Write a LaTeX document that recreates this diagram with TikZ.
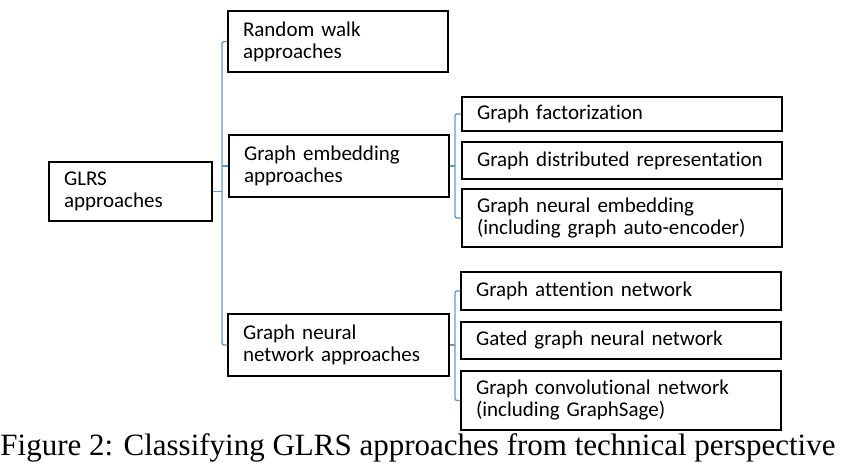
\documentclass[tikz,border=0pt]{standalone}
\usepackage{fontspec}
\setmainfont{Carlito}[Ligatures=NoCommon]
\newfontfamily\capfont{Liberation Serif}
\usepackage{xcolor}
\usepackage{tikz}
\usetikzlibrary{positioning}

\definecolor{linkblue}{HTML}{5B9BD5}

\tikzset{
  box/.style={draw, line width=1.2pt, align=left, inner xsep=15pt, inner ysep=0pt,
    font=\fontsize{21}{22}\selectfont},
  link/.style={draw=linkblue, line width=1.4pt, rounded corners=2pt}
}

\begin{document}
\begin{tikzpicture}[x=1pt, y=-1pt]
    \useasboundingbox (0,0) rectangle (846,472);
    % left column
    \node[box, text width=133pt, minimum height=59pt] (glrs) at (130.5,191.5) {GLRS\\approaches};
    % middle column
    \node[box, text width=190pt, minimum height=61pt] (rw)  at (338,41.5)  {Random walk\\approaches};
    \node[box, text width=190pt, minimum height=62pt] (ge)  at (339,166)   {Graph embedding\\approaches};
    \node[box, text width=191pt, minimum height=62pt] (gnn) at (338.5,345) {Graph neural\\network approaches};
    % right column
    \node[box, text width=290pt, minimum height=34pt] (gf)   at (622,114)   {Graph factorization};
    \node[box, text width=290pt, minimum height=37pt] (gd)   at (622,160.5) {Graph distributed representation};
    \node[box, text width=290pt, minimum height=58pt] (gne)  at (622,218)   {Graph neural embedding\\(including graph auto-encoder)};
    \node[box, text width=290pt, minimum height=38pt] (gat)  at (621,291)   {Graph attention network};
    \node[box, text width=290pt, minimum height=37pt] (ggnn) at (621,340.5) {Gated graph neural network};
    \node[box, text width=290pt, minimum height=59pt] (gcn)  at (621,400.5) {Graph convolutional network\\(including GraphSage)};
    % brackets
    \coordinate (trunk) at (222,0);
    \coordinate (fork) at (455,0);
    \draw[link] (rw.west) -- (rw.west -| trunk) -- (gnn.west -| trunk) -- (gnn.west);
    \draw[link] (glrs.east) -- (glrs.east -| trunk);
    \draw[link] (ge.west) -- (ge.west -| trunk);
    \draw[link] (gf.west) -- (gf.west -| fork) -- (gne.west -| fork) -- (gne.west);
    \draw[link] (ge.east) -- (ge.east -| fork);
    \draw[link] (gat.west) -- (gat.west -| fork) -- (gcn.west -| fork) -- (gcn.west);
    \draw[link] (gnn.east) -- (gnn.east -| fork);
    % caption
    \node[font=\capfont\fontsize{31}{34}\selectfont] (cap) at (418,448) {Figure 2: Classifying GLRS approaches from technical perspective};
\end{tikzpicture}
\end{document}
